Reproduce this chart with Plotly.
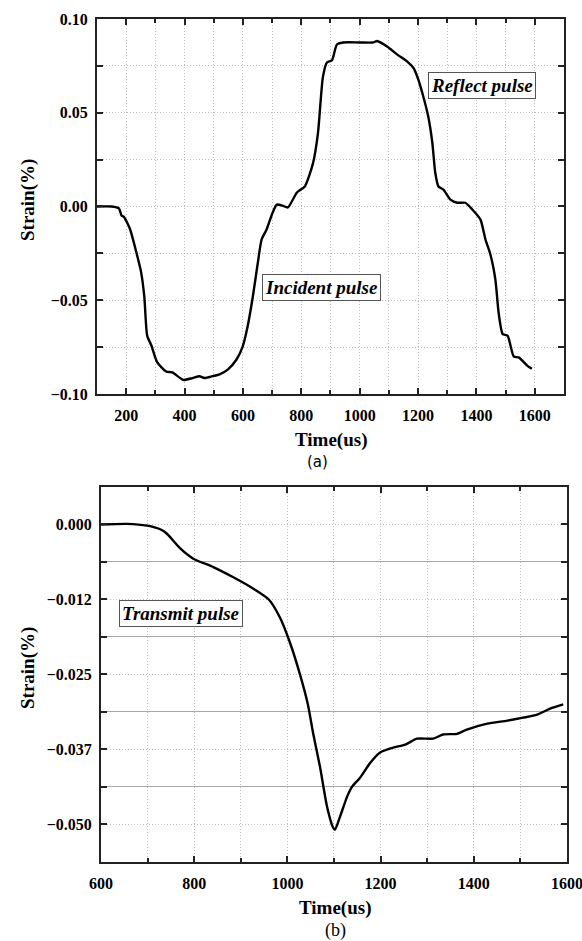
import plotly.graph_objects as go

# ---- (a) incident / reflect pulse ----
time_a = [100, 150, 175, 184, 192, 213, 234, 251, 262, 272, 286, 306, 337, 358, 396, 427, 451,
          468, 496, 520, 548, 578, 599, 616, 634, 651, 664, 681, 700, 716, 735, 754, 785, 812,
          840, 857, 874, 888, 905, 922, 943, 1000, 1046, 1060, 1094, 1129, 1163, 1184, 1201,
          1218, 1235, 1249, 1259, 1270, 1287, 1311, 1335, 1362, 1386, 1414, 1431, 1448, 1465,
          1476, 1490, 1507, 1528, 1545, 1575, 1590]
strain_a = [0.0, 0.0, -0.001, -0.0048, -0.0055, -0.012, -0.024, -0.035, -0.048, -0.069, -0.074,
            -0.083, -0.088, -0.0885, -0.0925, -0.0915, -0.0905, -0.0915, -0.0905, -0.0895,
            -0.087, -0.0816, -0.0747, -0.064, -0.048, -0.030, -0.0176, -0.0123, -0.004, 0.001,
            0.0005, -0.0005, 0.0075, 0.0107, 0.023, 0.039, 0.069, 0.0768, 0.078, 0.0864, 0.0875,
            0.0875, 0.0875, 0.0883, 0.0853, 0.081, 0.0773, 0.074, 0.0677, 0.0587, 0.048, 0.034,
            0.018, 0.0107, 0.009, 0.0037, 0.002, 0.002, -0.0016, -0.007, -0.0176, -0.0256,
            -0.039, -0.0565, -0.068, -0.069, -0.080, -0.0805, -0.085, -0.0865]

# ---- (b) transmit pulse ----
time_b = [600, 656, 699, 727, 741, 770, 798, 841, 884, 927, 960, 984, 1006, 1027, 1044, 1055,
          1070, 1085, 1098, 1102, 1113, 1128, 1139, 1156, 1178, 1199, 1227, 1253, 1278, 1313,
          1334, 1364, 1385, 1429, 1472, 1506, 1536, 1564, 1592]
strain_b = [0.0, 0.0001, -0.0002, -0.0008, -0.0015, -0.004, -0.0057, -0.0071, -0.0088, -0.0107,
            -0.0125, -0.0155, -0.0198, -0.0250, -0.030, -0.0347, -0.0404, -0.047, -0.0505,
            -0.0509, -0.0487, -0.0454, -0.0437, -0.0422, -0.0397, -0.038, -0.0372, -0.0367,
            -0.0357, -0.0357, -0.035, -0.0349, -0.0342, -0.0332, -0.0327, -0.0322, -0.0317,
            -0.0307, -0.030]

yticks_b = [0.0, -0.0125, -0.025, -0.0375, -0.05]
yticktext_b = ["0.000", "\u22120.012", "\u22120.025", "\u22120.037", "\u22120.050"]
yminor_b = [0.00625, -0.00625, -0.01875, -0.03125, -0.04375, -0.05625]

SERIF = "Liberation Serif, Times New Roman, serif"
tickfont = dict(family=SERIF, size=16, color="black", weight="bold")
dotted = "#bdbdbd"
DOT = "1px,2px"

fig = go.Figure()
fig.add_trace(go.Scatter(x=time_a, y=strain_a, mode="lines",
                         line=dict(color="black", width=2.4, shape="spline", smoothing=0.6),
                         xaxis="x", yaxis="y", showlegend=False))
fig.add_trace(go.Scatter(x=time_b, y=strain_b, mode="lines",
                         line=dict(color="black", width=2.4, shape="spline", smoothing=0.6),
                         xaxis="x2", yaxis="y2", showlegend=False))

common = dict(showline=True, linecolor="#222", linewidth=2, mirror="allticks", ticks="inside",
              tickcolor="#222", tickwidth=2, ticklen=6, tickfont=tickfont, zeroline=False,
              showgrid=True, gridcolor=dotted, griddash=DOT, gridwidth=1,
              ticklabeloverflow="allow", automargin=False)
minor_x = dict(dtick=100, ticks="inside", ticklen=4, tickcolor="#222", showgrid=True,
               gridcolor=dotted, griddash=DOT, gridwidth=1)

fig.update_layout(
    width=582, height=941, margin=dict(l=0, r=0, t=0, b=0, autoexpand=False),
    paper_bgcolor="white", plot_bgcolor="white",
    xaxis=dict(domain=[0.1667, 0.969], anchor="y", range=[100, 1700], tick0=0, dtick=200,
               minor=minor_x, ticklabelstandoff=6, **common),
    yaxis=dict(domain=[0.5813, 0.9798], anchor="x", range=[-0.1, 0.1], tick0=0, dtick=0.05,
               tickformat=".2f",
               minor=dict(dtick=0.025, ticks="inside", ticklen=6, tickcolor="#222", showgrid=True,
                          gridcolor=dotted, griddash=DOT, gridwidth=1),
               ticklabelstandoff=4, **common),
    xaxis2=dict(domain=[0.1735, 0.9742], anchor="y2", range=[599.9, 1600.1], tick0=0, dtick=200,
                minor=minor_x, ticklabelstandoff=6, **common),
    yaxis2=dict(domain=[0.0840, 0.4825], anchor="x2", range=[-0.05625, 0.00625],
                tickmode="array", tickvals=yticks_b, ticktext=yticktext_b,
                minor=dict(tickmode="array", tickvals=yminor_b, ticks="inside", ticklen=6,
                           tickcolor="#222", showgrid=True, gridcolor="#a8a8a8", griddash="solid",
                           gridwidth=1),
                ticklabelstandoff=4, **common),
)

titlefont = dict(family=SERIF, size=19, color="black", weight="bold")
boxfont = dict(family=SERIF, size=19, color="black", weight="bold", style="italic")


def paper_text(text, px, py, font, angle=0):
    return dict(text=text, x=px / 582, y=1 - py / 941, xref="paper", yref="paper",
                xanchor="center", yanchor="middle", textangle=angle, showarrow=False, font=font)


def box_text(text, x, y, xr, yr):
    return dict(text=text, x=x, y=y, xref=xr, yref=yr, xanchor="center", yanchor="middle",
                showarrow=False, font=boxfont, bgcolor="white", bordercolor="#555",
                borderwidth=1, borderpad=2)


annotations = [
    paper_text("Strain(%)", 28, 200, titlefont, -90),
    paper_text("Strain(%)", 28, 668, titlefont, -90),
    paper_text("Time(us)", 331, 440, titlefont),
    paper_text("(a)", 318, 462, dict(family="DejaVu Sans", size=15, color="black")),
    paper_text("Time(us)", 335, 908, titlefont),
    paper_text("(b)", 335, 930, dict(family=SERIF, size=18, color="black")),
    box_text("Reflect pulse", 1419, 0.0643, "x", "y"),
    box_text("Incident pulse", 869, -0.0432, "x", "y"),
    box_text("Transmit pulse", 772, -0.0149, "x2", "y2"),
]
fig.update_layout(annotations=annotations)

fig.write_html("out.html")
